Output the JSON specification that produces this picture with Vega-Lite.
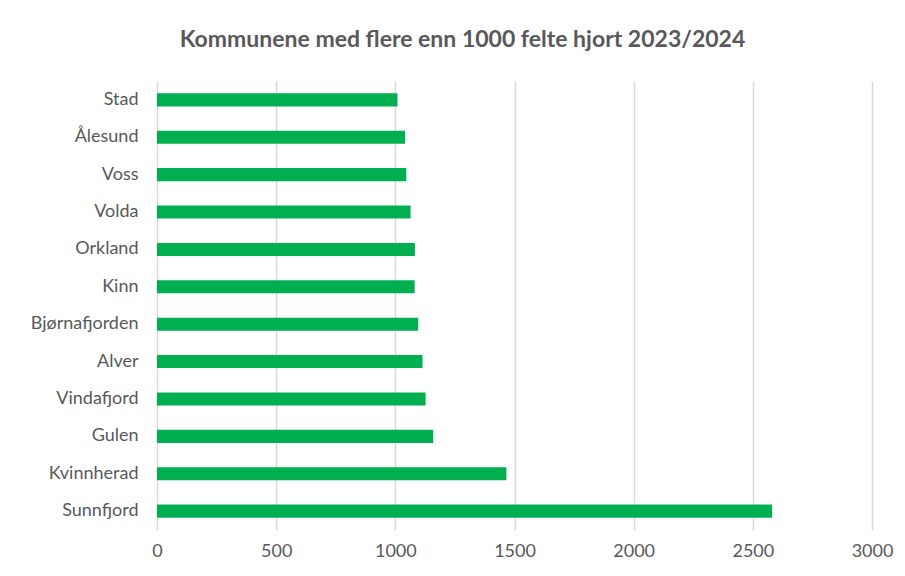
{
  "$schema": "https://vega.github.io/schema/vega-lite/v6.json",
  "width": 715,
  "height": 449,
  "autosize": {"type": "none"},
  "padding": {"left": 157, "top": 81, "right": 33, "bottom": 46},
  "background": "white",
  "title": {
    "text": "Kommunene med flere enn 1000 felte hjort 2023/2024",
    "font": "Lato",
    "fontSize": 23,
    "fontWeight": "bold",
    "color": "#595959",
    "anchor": "middle",
    "dx": -52,
    "offset": 29
  },
  "data": {
    "values": [
      {"kommune": "Stad", "hjort": 1009},
      {"kommune": "Ålesund", "hjort": 1041},
      {"kommune": "Voss", "hjort": 1046},
      {"kommune": "Volda", "hjort": 1064},
      {"kommune": "Orkland", "hjort": 1082},
      {"kommune": "Kinn", "hjort": 1081},
      {"kommune": "Bjørnafjorden", "hjort": 1096},
      {"kommune": "Alver", "hjort": 1114},
      {"kommune": "Vindafjord", "hjort": 1127},
      {"kommune": "Gulen", "hjort": 1159},
      {"kommune": "Kvinnherad", "hjort": 1466},
      {"kommune": "Sunnfjord", "hjort": 2581}
    ]
  },
  "mark": {"type": "bar", "color": "#00B050"},
  "encoding": {
    "y": {
      "field": "kommune",
      "type": "nominal",
      "sort": ["Stad", "Ålesund", "Voss", "Volda", "Orkland", "Kinn", "Bjørnafjorden", "Alver", "Vindafjord", "Gulen", "Kvinnherad", "Sunnfjord"],
      "scale": {"paddingInner": 0.65, "paddingOuter": 0.33},
      "axis": {
        "title": null,
        "ticks": false,
        "domain": false,
        "labelFont": "Lato",
        "labelFontSize": 18,
        "labelColor": "#595959",
        "labelPadding": 19
      }
    },
    "x": {
      "field": "hjort",
      "type": "quantitative",
      "scale": {"domain": [0, 3000], "nice": false},
      "axis": {
        "title": null,
        "values": [0, 500, 1000, 1500, 2000, 2500, 3000],
        "format": "d",
        "ticks": false,
        "domain": false,
        "gridColor": "#d9d9d9",
        "gridWidth": 1.5,
        "labelFont": "Lato",
        "labelFontSize": 18,
        "labelColor": "#595959",
        "labelPadding": 12,
        "labelFlush": false
      }
    }
  },
  "config": {"view": {"stroke": null}}
}
